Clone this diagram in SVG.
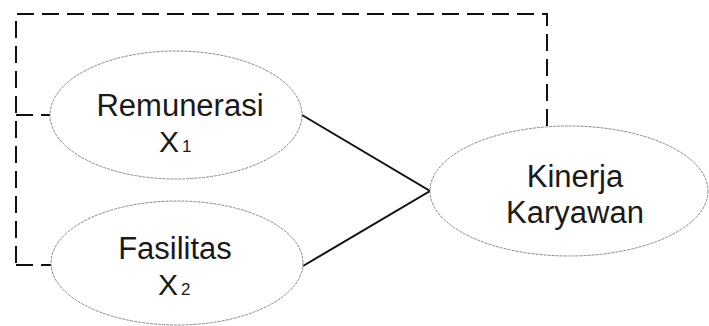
<svg xmlns="http://www.w3.org/2000/svg" width="709" height="326" viewBox="0 0 709 326">
<style>
.node ellipse{fill:#fff;stroke:#888;stroke-width:1;stroke-dasharray:3 1}
.lbl{font-family:"Liberation Sans",Arial,sans-serif;font-size:31px;fill:#1a1a1a;text-anchor:middle}
.x{font-family:"Liberation Sans",Arial,sans-serif;font-size:30px;fill:#1a1a1a}
.sub{font-family:"Liberation Sans",Arial,sans-serif;font-size:17px;fill:#1a1a1a}
.solid{fill:none;stroke:#111;stroke-width:2}
.dash{fill:none;stroke:#111;stroke-width:2;stroke-dasharray:17 8}
</style>
<rect width="709" height="326" fill="#fff"/>
<g id="connectors">
<path class="dash" d="M547,126 V14 H16 V265"/>
<path class="dash" d="M16,115 H50" stroke-dasharray="6 9 20"/>
<path class="dash" d="M16,265 H51" stroke-dasharray="0 15 20"/>
<path class="solid" d="M302,115 L430,191 L303,266"/>
</g>
<g id="remunerasi" class="node">
<ellipse cx="176" cy="115" rx="126" ry="64"/>
<text class="lbl" x="180" y="116">Remunerasi</text>
<text class="x" x="159" y="152">X</text>
<text class="sub" x="182" y="152">1</text>
</g>
<g id="fasilitas" class="node">
<ellipse cx="177" cy="263" rx="126" ry="62"/>
<text class="lbl" x="175" y="259">Fasilitas</text>
<text class="x" x="158" y="295">X</text>
<text class="sub" x="181" y="295">2</text>
</g>
<g id="kinerja" class="node">
<ellipse cx="569" cy="191" rx="139" ry="65"/>
<text class="lbl" x="575" y="187">Kinerja</text>
<text class="lbl" x="575" y="223">Karyawan</text>
</g>
</svg>
